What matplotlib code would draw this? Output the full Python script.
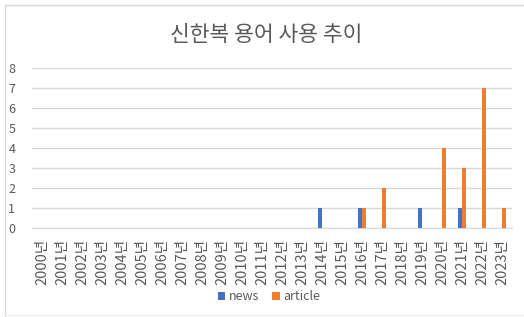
import numpy as np
import matplotlib.pyplot as plt
from matplotlib.lines import Line2D

plt.rcParams['font.family'] = ['Noto Sans CJK KR', 'DejaVu Sans']

years = [str(y) + '년' for y in range(2000, 2024)]
news = [0, 0, 0, 0, 0, 0, 0, 0, 0, 0, 0, 0, 0, 0, 1, 0, 1, 0, 0, 1, 0, 1, 0, 0]
article = [0, 0, 0, 0, 0, 0, 0, 0, 0, 0, 0, 0, 0, 0, 0, 0, 1, 2, 0, 0, 4, 3, 7, 1]

W, H = 524, 317
fig = plt.figure(figsize=(W / 100, H / 100), dpi=100)
ax = fig.add_axes([32 / W, 1 - 228 / H, 480 / W, 160 / H])

x = np.arange(len(years))
bw = 0.2
ax.bar(x - bw / 2, news, bw, color='#4472C4', label='news', zorder=3)
ax.bar(x + bw / 2, article, bw, color='#ED7D31', label='article', zorder=3)

ax.set_xlim(-0.5, len(years) - 0.5)
ax.set_ylim(0, 8)
ax.set_yticks(range(0, 9))
ax.yaxis.grid(True, color='#D9D9D9', linewidth=1, zorder=0)
ax.set_xticks(x)
ax.set_xticklabels(years, rotation=90, fontsize=10.5, color='#595959')
ax.tick_params(axis='y', labelsize=9, labelcolor='#595959', length=0, pad=12)
ax.tick_params(axis='x', length=0, pad=8)
for s in ['top', 'right', 'left']:
    ax.spines[s].set_visible(False)
ax.spines['bottom'].set_color('#D9D9D9')

fig.text(266 / W, 1 - 35 / H, '신한복 용어 사용 추이', ha='center', va='center',
         fontsize=15.5, color='#595959')

fig.legend(loc='center', bbox_to_anchor=(269 / W, 1 - 297 / H), ncol=2,
           frameon=False, fontsize=9, handlelength=0.6, handleheight=0.6,
           handletextpad=0.3, columnspacing=1.0, labelcolor='#595959')

# chart border
fig.add_artist(Line2D([5 / W, 5 / W], [0, 1 - 5 / H], color='#D9D9D9', lw=1, transform=fig.transFigure))
fig.add_artist(Line2D([5 / W, 1], [1 - 5 / H, 1 - 5 / H], color='#D9D9D9', lw=1, transform=fig.transFigure))
fig.add_artist(Line2D([5 / W, 1], [2 / H, 2 / H], color='#EEEEEE', lw=1, transform=fig.transFigure))

fig.savefig('out.png', dpi=100)
